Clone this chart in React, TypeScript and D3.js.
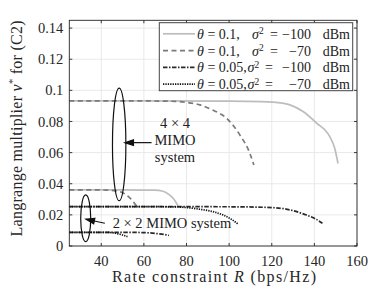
import * as d3 from "d3"
import { useRef, useEffect } from "react"

const xTicks = [40, 60, 80, 100, 120, 140, 160]
const yTicks = [0, 0.02, 0.04, 0.06, 0.08, 0.1, 0.12, 0.14]

// 4x4 MIMO, theta = 0.1
const rate4Solid = [25, 60, 100, 115, 125, 128.5, 134.7, 141, 147.2, 149.5, 151.1]
const nu4Solid = [0.0932, 0.0932, 0.0931, 0.0928, 0.0918, 0.0907, 0.0864, 0.079, 0.0703, 0.063, 0.053]
const rate4Dashed = [25, 60, 75, 80, 86.3, 92, 98.8, 105, 109.7, 111.6]
const nu4Dashed = [0.0932, 0.0932, 0.0929, 0.0922, 0.0907, 0.0875, 0.0821, 0.0714, 0.0596, 0.052]
// 2x2 MIMO, theta = 0.1
const rate2Solid = [25, 50, 65, 69, 72, 74, 76]
const nu2Solid = [0.036, 0.036, 0.0359, 0.0352, 0.0328, 0.0302, 0.0258]
const rate2Dashed = [25, 40, 46, 50.3, 53.5, 56.6]
const nu2Dashed = [0.036, 0.036, 0.0356, 0.034, 0.0308, 0.0257]
// 4x4 MIMO, theta = 0.05
const rate4DashDot = [25, 60, 100, 116, 125, 128.5, 136.3, 140, 143.8]
const nu4DashDot = [0.0253, 0.0253, 0.0252, 0.0249, 0.0241, 0.0232, 0.0199, 0.0178, 0.0146]
const rate4Dotted = [25, 60, 75, 86.3, 92, 97.2, 101, 104.2]
const nu4Dotted = [0.0253, 0.0253, 0.0251, 0.0236, 0.0222, 0.0199, 0.0172, 0.0141]
// 2x2 MIMO, theta = 0.05
const rate2DashDot = [25, 50, 60, 66, 70, 71.8]
const nu2DashDot = [0.0088, 0.0088, 0.0086, 0.008, 0.0073, 0.0068]
const rate2Dotted = [25, 40, 45, 48, 50.5, 52.3]
const nu2Dotted = [0.0088, 0.0088, 0.0086, 0.0078, 0.0069, 0.006]

const legendTheta = ["0.1,", "0.1,", "0.05,", "0.05,"]
const legendSigma = ["\u2212100", "\u221270", "\u2212100", "\u221270"]

const styles: Record<string, { color: string; width: number; dash: string | null }> = {
  solid: { color: "#bdbdbd", width: 1.7, dash: null },
  dashed: { color: "#7a7a7a", width: 1.7, dash: "5,3.5" },
  dashdot: { color: "#2a2a2a", width: 1.7, dash: "4.5,1.5,1.5,1.5" },
  dotted: { color: "#111111", width: 1.7, dash: "1.3,1.1" },
}

const series = [
  { r: rate4Solid, v: nu4Solid, s: "solid" },
  { r: rate2Solid, v: nu2Solid, s: "solid" },
  { r: rate4Dashed, v: nu4Dashed, s: "dashed" },
  { r: rate2Dashed, v: nu2Dashed, s: "dashed" },
  { r: rate4DashDot, v: nu4DashDot, s: "dashdot" },
  { r: rate2DashDot, v: nu2DashDot, s: "dashdot" },
  { r: rate4Dotted, v: nu4Dotted, s: "dotted" },
  { r: rate2Dotted, v: nu2Dotted, s: "dotted" },
]
const legendStyles = ["solid", "dashed", "dashdot", "dotted"]

const FONT = "Liberation Serif"

export default function App() {
  const svgRef = useRef<SVGSVGElement>(null)

  useEffect(() => {
    if (!svgRef.current) return
    const width = 388
    const height = 291
    const margin = { top: 20.3, right: 31, bottom: 45, left: 69.3 }

    const svg = d3.select(svgRef.current)
    svg.selectAll("*").remove()
    svg.attr("width", width).attr("height", height).attr("font-family", FONT)

    const x = d3.scaleLinear().domain([25, 160]).range([margin.left, width - margin.right])
    const y = d3.scaleLinear().domain([0, 0.145]).range([height - margin.bottom, margin.top])
    const x0 = margin.left
    const x1 = width - margin.right
    const y0 = height - margin.bottom
    const y1 = margin.top

    // grid
    svg
      .append("g")
      .selectAll("line")
      .data(xTicks)
      .enter()
      .append("line")
      .attr("x1", (d) => x(d))
      .attr("x2", (d) => x(d))
      .attr("y1", y1)
      .attr("y2", y0)
      .attr("stroke", "#e6e6e6")
      .attr("stroke-width", 0.9)
    svg
      .append("g")
      .selectAll("line")
      .data(yTicks)
      .enter()
      .append("line")
      .attr("x1", x0)
      .attr("x2", x1)
      .attr("y1", (d) => y(d))
      .attr("y2", (d) => y(d))
      .attr("stroke", "#e6e6e6")
      .attr("stroke-width", 0.9)

    // curves
    const line = d3
      .line<[number, number]>()
      .x((d) => x(d[0]))
      .y((d) => y(d[1]))
      .curve(d3.curveMonotoneX)

    series.forEach((sr) => {
      const st = styles[sr.s]
      const pts = sr.r.map((r, i) => [r, sr.v[i]] as [number, number])
      const p = svg
        .append("path")
        .datum(pts)
        .attr("fill", "none")
        .attr("stroke", st.color)
        .attr("stroke-width", st.width)
        .attr("d", line)
      if (st.dash) p.attr("stroke-dasharray", st.dash)
    })

    // axes box + inward ticks
    const axisColor = "#262626"
    svg
      .append("rect")
      .attr("x", x0)
      .attr("y", y1)
      .attr("width", x1 - x0)
      .attr("height", y0 - y1)
      .attr("fill", "none")
      .attr("stroke", axisColor)
      .attr("stroke-width", 0.9)
    const tl = 3
    xTicks.forEach((t) => {
      svg.append("line").attr("x1", x(t)).attr("x2", x(t)).attr("y1", y0).attr("y2", y0 - tl).attr("stroke", axisColor).attr("stroke-width", 0.9)
      svg.append("line").attr("x1", x(t)).attr("x2", x(t)).attr("y1", y1).attr("y2", y1 + tl).attr("stroke", axisColor).attr("stroke-width", 0.9)
    })
    yTicks.forEach((t) => {
      svg.append("line").attr("x1", x0).attr("x2", x0 + tl).attr("y1", y(t)).attr("y2", y(t)).attr("stroke", axisColor).attr("stroke-width", 0.9)
      svg.append("line").attr("x1", x1).attr("x2", x1 - tl).attr("y1", y(t)).attr("y2", y(t)).attr("stroke", axisColor).attr("stroke-width", 0.9)
    })

    // tick labels
    svg
      .append("g")
      .selectAll("text")
      .data(xTicks)
      .enter()
      .append("text")
      .attr("font-family", FONT)
      .attr("x", (d) => x(d))
      .attr("y", y0 + 14.5)
      .attr("dy", "0.35em")
      .attr("text-anchor", "middle")
      .attr("font-size", 14.5)
      .attr("fill", axisColor)
      .text((d) => String(d))
    svg
      .append("g")
      .selectAll("text")
      .data(yTicks)
      .enter()
      .append("text")
      .attr("font-family", FONT)
      .attr("x", x0 - 6)
      .attr("y", (d) => y(d))
      .attr("dy", "0.35em")
      .attr("text-anchor", "end")
      .attr("font-size", 14.5)
      .attr("fill", axisColor)
      .text((d) => String(d))

    // axis titles
    const xl = svg
      .append("text")
      .attr("font-family", FONT)
      .attr("x", 214)
      .attr("y", 276.5)
      .attr("dy", "0.35em")
      .attr("text-anchor", "middle")
      .attr("font-size", 16)
      .attr("textLength", 204)
      .attr("lengthAdjust", "spacing")
      .attr("fill", axisColor)
    xl.append("tspan").text("Rate constraint ")
    xl.append("tspan").attr("font-style", "italic").text("R")
    xl.append("tspan").text(" (bps/Hz)")

    const yl = svg
      .append("text")
      .attr("font-family", FONT)
      .attr("transform", `translate(16,128.5) rotate(-90)`)
      .attr("dy", "0.35em")
      .attr("text-anchor", "middle")
      .attr("font-size", 16)
      .attr("textLength", 216)
      .attr("lengthAdjust", "spacing")
      .attr("fill", axisColor)
    yl.append("tspan").text("Langrange multiplier ")
    yl.append("tspan").attr("font-style", "italic").text("\u03bd")
    yl.append("tspan").attr("font-size", 10.5).attr("dy", "-0.5em").text("*")
    yl.append("tspan").attr("dy", "0.33em").text(" for (C2)")

    // annotations
    const ann = svg.append("g").attr("stroke", "#111").attr("fill", "none").attr("stroke-width", 1.2)
    ann
      .append("ellipse")
      .attr("cx", x(48.4))
      .attr("cy", (y(0.1014) + y(0.0291)) / 2)
      .attr("rx", 6.7)
      .attr("ry", (y(0.0291) - y(0.1014)) / 2)
    ann
      .append("ellipse")
      .attr("cx", x(32.7))
      .attr("cy", (y(0.0328) + y(0.0028)) / 2)
      .attr("rx", 5)
      .attr("ry", (y(0.0028) - y(0.0328)) / 2)

    const arrow = (xa: number, ya: number, xb: number, yb: number) => {
      ann.append("line").attr("x1", xa).attr("y1", ya).attr("x2", xb).attr("y2", yb)
      const ang = Math.atan2(yb - ya, xb - xa)
      const hl = 9
      const spread = 0.32
      const pts = [
        [xb - hl * Math.cos(ang - spread), yb - hl * Math.sin(ang - spread)],
        [xb, yb],
        [xb - hl * Math.cos(ang + spread), yb - hl * Math.sin(ang + spread)],
      ]
      ann
        .append("path")
        .attr("d", `M${pts[0][0]},${pts[0][1]}L${pts[1][0]},${pts[1][1]}L${pts[2][0]},${pts[2][1]}Z`)
        .attr("fill", "#111")
    }
    arrow(x(63.6), y(0.0664), x(51.1), y(0.0664))
    arrow(x(41.7), y(0.0146), x(32.8), y(0.0172))

    const annText = svg.append("g").attr("font-size", 14.5).attr("fill", "#222").attr("text-anchor", "middle")
    const addText = (tx: number, ty: number, s: string, anchor = "middle") =>
      annText
        .append("text")
        .attr("font-family", FONT)
        .attr("x", tx)
        .attr("y", ty)
        .attr("dy", "0.35em")
        .attr("text-anchor", anchor)
        .text(s)
    addText(175, 123.3, "4 \u00d7 4")
    addText(175, 140, "MIMO")
    addText(175, 156.7, "system")
    addText(112.7, 222.7, "2 \u00d7 2 MIMO system", "start")

    // legend
    const lg = svg.append("g")
    lg.append("rect")
      .attr("x", 159.3)
      .attr("y", 22.7)
      .attr("width", 193.4)
      .attr("height", 68)
      .attr("fill", "#fff")
      .attr("stroke", "#444")
      .attr("stroke-width", 1)
    legendStyles.forEach((s, i) => {
      const st = styles[s]
      const cy = 33.8 + i * 16.8
      const l = lg
        .append("line")
        .attr("x1", 163)
        .attr("x2", 195)
        .attr("y1", cy)
        .attr("y2", cy)
        .attr("stroke", st.color)
        .attr("stroke-width", st.width)
      if (st.dash) l.attr("stroke-dasharray", st.dash)
      const txt = (tx: number, anchor: string) =>
        lg
          .append("text")
          .attr("font-family", FONT)
          .attr("x", tx)
          .attr("y", cy)
          .attr("dy", "0.35em")
          .attr("text-anchor", anchor)
          .attr("font-size", 14)
          .attr("fill", "#222")
      const t1 = txt(197, "start")
      t1.append("tspan").attr("font-style", "italic").text("\u03b8")
      t1.append("tspan").text(" = " + legendTheta[i])
      const t2 = txt(i < 2 ? 252 : 247.5, "start")
      t2.append("tspan").attr("font-style", "italic").text("\u03c3")
      t2.append("tspan").attr("font-size", 9.5).attr("dy", "-0.45em").text("2")
      txt(i < 2 ? 270 : 265, "start").text("=")
      txt(311, "end").text(legendSigma[i])
      txt(350, "end").text("dBm")
    })
  }, [])

  return (
    <div style={{ position: "absolute", left: 0, top: 0, width: 388, height: 291, background: "#fff" }}>
      <svg ref={svgRef}></svg>
    </div>
  )
}
